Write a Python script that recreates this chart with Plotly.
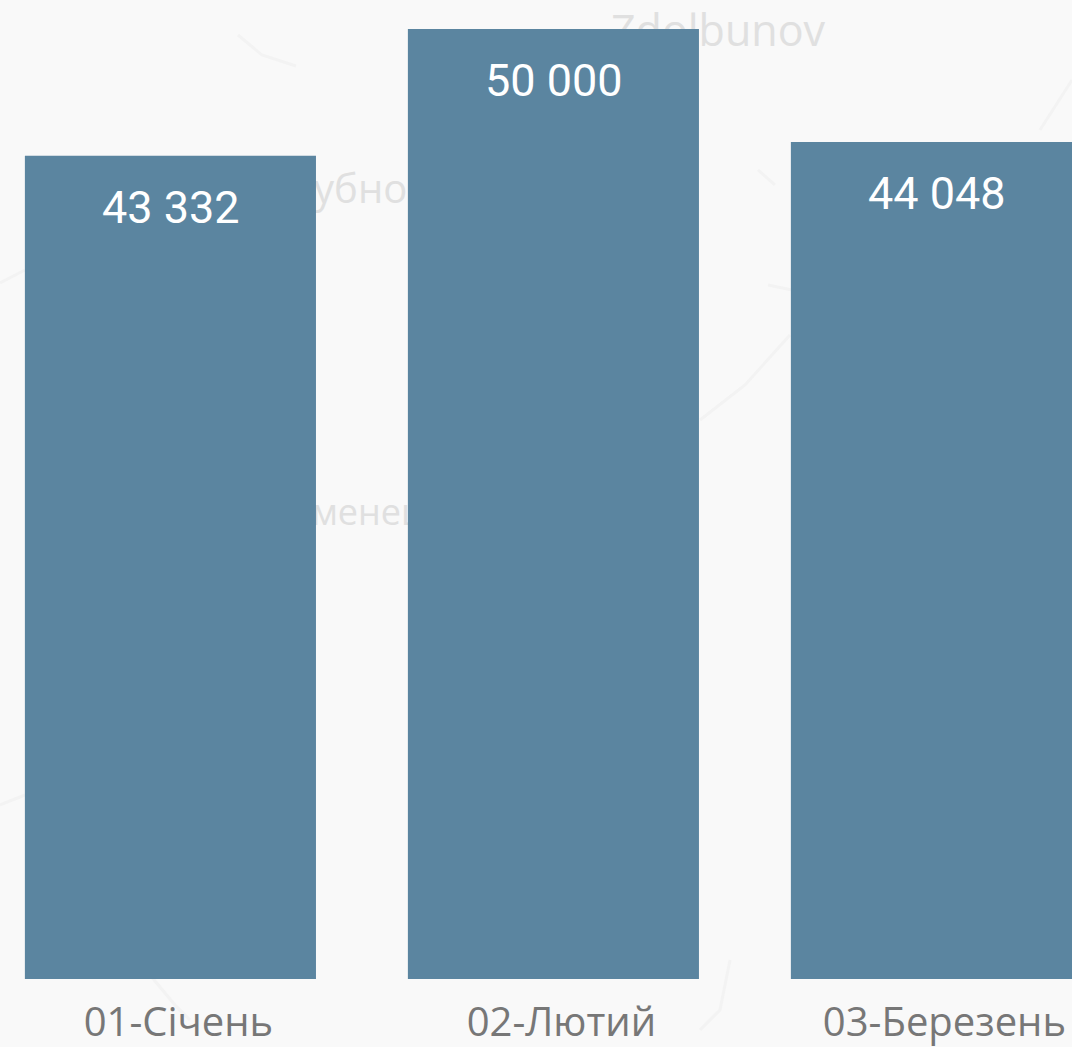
import plotly.graph_objects as go

months = ["01-Січень", "02-Лютий", "03-Березень"]
values = [43332, 50000, 44048]
value_labels = ["43 332", "50 000", "44 048"]

map_labels = ["Zdolbunov", "Дубно", "Кременець"]
map_label_px = [(718, 32, 43), (347, 190, 40), (346, 513, 36)]
map_roads_px = [
    [(238, 35), (262, 55), (296, 66)],
    [(0, 283), (25, 270)],
    [(758, 170), (775, 185)],
    [(768, 285), (792, 290)],
    [(700, 420), (745, 385), (790, 335)],
    [(0, 805), (25, 795)],
    [(150, 975), (175, 1005), (190, 1020)],
    [(700, 1030), (720, 1010), (730, 960)],
    [(1040, 130), (1072, 80)],
]

W, H = 1072, 1047
TOP, BOTTOM = 29, 68
BG = "#f9f9f9"
BAR = "#5b85a0"


def px(x, y):
    # paper coordinates span the plot area, not the whole page
    return x / W, (H - BOTTOM - y) / (H - TOP - BOTTOM)


shapes = []
for name, (x, y, size) in zip(map_labels, map_label_px):
    x0, y0 = px(x - 150, y - 30)
    x1, y1 = px(x + 150, y + 30)
    shapes.append(dict(
        type="rect", xref="paper", yref="paper", layer="below",
        x0=x0, x1=x1, y0=y0, y1=y1,
        line=dict(width=0), fillcolor="rgba(0,0,0,0)",
        label=dict(text=name, textposition="middle center",
                   font=dict(family="Open Sans", size=size, color="#e0e0e0")),
    ))
for road in map_roads_px:
    pts = [px(*p) for p in road]
    path = "M " + " L ".join(f"{a:.4f},{b:.4f}" for a, b in pts)
    shapes.append(dict(type="path", xref="paper", yref="paper", layer="below",
                       path=path, line=dict(color="#f3f3f3", width=3)))

annotations = [
    dict(x=m, y=v, text=t, xref="x", yref="y", yanchor="top", xanchor="center",
         showarrow=False, yshift=-23, xshift=1,
         font=dict(family="Roboto", size=45, color="#ffffff"))
    for m, v, t in zip(months, values, value_labels)
]

fig = go.Figure(go.Bar(x=months, y=values, marker=dict(color=BAR, line=dict(width=0))))
fig.update_layout(
    width=W, height=H,
    margin=dict(l=0, r=0, t=TOP, b=BOTTOM),
    paper_bgcolor=BG, plot_bgcolor="rgba(0,0,0,0)",
    bargap=0.24, showlegend=False,
    shapes=shapes, annotations=annotations,
)
fig.update_xaxes(
    type="category", range=[-0.445, 2.354], showgrid=False, zeroline=False,
    showline=False, ticks="", tickfont=dict(family="Open Sans", size=40, color="#777777"),
    automargin=False, ticklabelstandoff=16, ticklabelshift=8,
)
fig.update_yaxes(range=[0, 50000], visible=False)
fig.write_html(
    "out.html",
    config={"displayModeBar": False},
    post_script="document.body.style.margin='0';document.documentElement.style.overflow='hidden';",
)
